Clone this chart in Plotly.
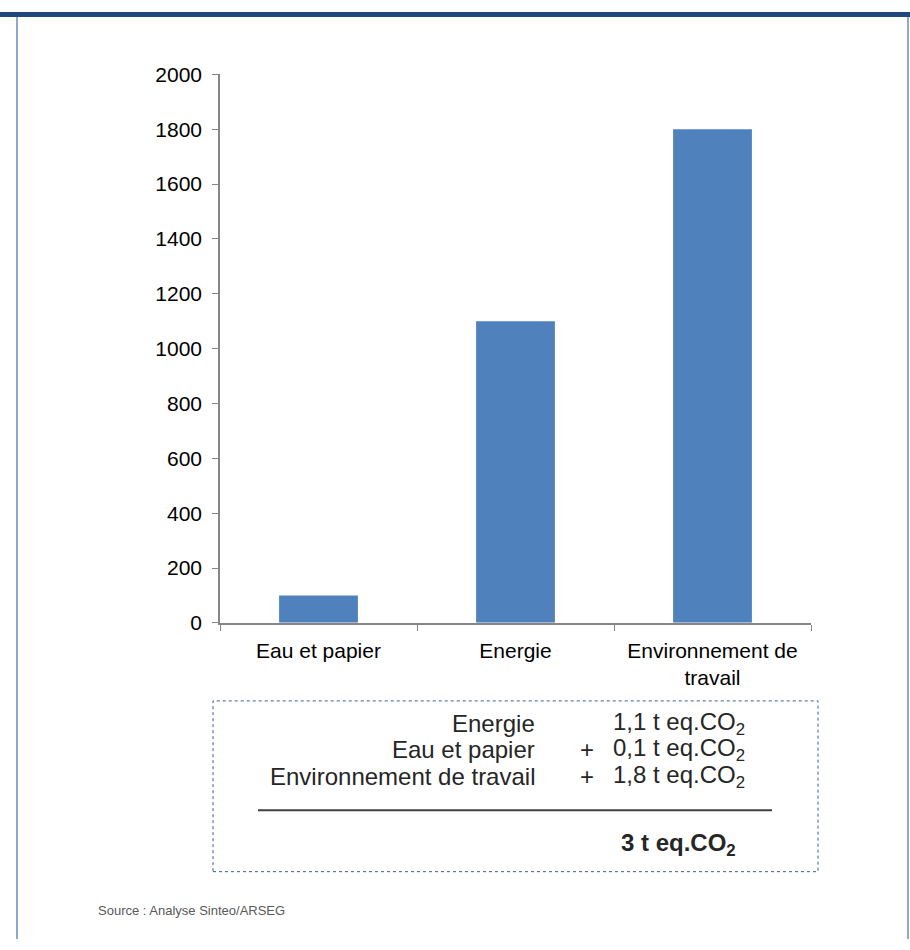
import plotly.graph_objects as go

# Emissions by post (kg eq.CO2)
categories = ["Eau et papier", "Energie", "Environnement de travail"]
tick_labels = ["Eau et papier", "Energie", "Environnement de<br>travail"]
emissions_kg = [100, 1100, 1800]

# Summary box order
summary_order = ["Energie", "Eau et papier", "Environnement de travail"]
summary_signs = ["", "+", "+"]

y_ticks = [0, 200, 400, 600, 800, 1000, 1200, 1400, 1600, 1800, 2000]

W, H = 910, 950
FONT = "Liberation Sans, Arial, sans-serif"
AXIS_GREY = "#868686"
TEXT_DARK = "#262626"
TICK_SIZE = 21
BOX_SIZE = 24


def px(x):
    return x / W


def py(y):
    return 1 - y / H


def fmt_t(kg):
    t = kg / 1000
    s = f"{t:.1f}".replace(".", ",")
    if s.endswith(",0"):
        s = s[:-2]
    return s


fig = go.Figure(
    go.Bar(
        x=categories,
        y=emissions_kg,
        marker=dict(color="#4F81BD", line=dict(width=0)),
        width=0.4,
        hoverinfo="skip",
    )
)

fig.update_layout(
    width=W,
    height=H,
    margin=dict(l=0, r=0, t=0, b=0),
    paper_bgcolor="white",
    plot_bgcolor="white",
    showlegend=False,
    font=dict(family=FONT, size=TICK_SIZE, color="#000000"),
    xaxis=dict(
        domain=[px(220), px(811)],
        range=[-0.5, 2.5],
        tickmode="array",
        tickvals=categories,
        ticktext=tick_labels,
        tickson="boundaries",
        ticks="outside",
        ticklen=6,
        tickcolor=AXIS_GREY,
        showline=True,
        linecolor=AXIS_GREY,
        linewidth=1.5,
        showgrid=False,
        zeroline=False,
        ticklabelstandoff=8,
        tickfont=dict(size=TICK_SIZE, family=FONT, color="#000000"),
    ),
    yaxis=dict(
        domain=[py(626), py(64)],
        range=[0, 2000],
        tickmode="array",
        tickvals=y_ticks,
        ticktext=[str(v) for v in y_ticks],
        ticks="outside",
        ticklen=6,
        tickcolor=AXIS_GREY,
        showline=True,
        linecolor=AXIS_GREY,
        linewidth=1.5,
        showgrid=False,
        zeroline=False,
        ticklabelstandoff=6,
        tickfont=dict(size=TICK_SIZE, family=FONT, color="#000000"),
    ),
)

shapes = [
    # frame: dark band on top, thin light rules at the sides
    dict(type="rect", xref="paper", yref="paper", x0=0, x1=1, y0=py(5), y1=1,
         fillcolor="#1F497D", line=dict(width=0)),
    dict(type="line", xref="paper", yref="paper", x0=px(17), x1=px(17), y0=0, y1=py(5),
         line=dict(color="#8FA8CB", width=2)),
    dict(type="line", xref="paper", yref="paper", x0=px(908), x1=px(908), y0=0, y1=py(5),
         line=dict(color="#8FA8CB", width=2)),
    # dotted summary box
    dict(type="rect", xref="paper", yref="paper", x0=px(213), x1=px(818), y0=py(881), y1=py(706),
         line=dict(color="#3B5C8F", width=1, dash="dot"), fillcolor="rgba(0,0,0,0)"),
    # total rule
    dict(type="line", xref="paper", yref="paper", x0=px(258), x1=px(772), y0=py(818), y1=py(818),
         line=dict(color="#404040", width=2)),
]

annotations = []
row_y = [729, 756, 783]
kg_by_cat = dict(zip(categories, emissions_kg))
for name, sign, yy in zip(summary_order, summary_signs, row_y):
    annotations.append(dict(
        x=px(537), y=py(yy), xref="paper", yref="paper", xanchor="right", yanchor="middle",
        text=name, showarrow=False, font=dict(size=BOX_SIZE, family=FONT, color=TEXT_DARK)))
    if sign:
        annotations.append(dict(
            x=px(587), y=py(yy), xref="paper", yref="paper", xanchor="center", yanchor="middle",
            text=sign, showarrow=False, font=dict(size=BOX_SIZE, family=FONT, color=TEXT_DARK)))
    annotations.append(dict(
        x=px(611), y=py(yy), xref="paper", yref="paper", xanchor="left", yanchor="middle",
        text=f"{fmt_t(kg_by_cat[name])} t eq.CO<sub>2</sub>", showarrow=False,
        font=dict(size=BOX_SIZE, family=FONT, color=TEXT_DARK)))

total_kg = sum(emissions_kg)
annotations.append(dict(
    x=px(619), y=py(853), xref="paper", yref="paper", xanchor="left", yanchor="middle",
    text=f"<b>{fmt_t(total_kg)} t eq.CO<sub>2</sub></b>", showarrow=False,
    font=dict(size=BOX_SIZE, family=FONT, color=TEXT_DARK)))

annotations.append(dict(
    x=px(96), y=py(921), xref="paper", yref="paper", xanchor="left", yanchor="middle",
    text="Source : Analyse Sinteo/ARSEG", showarrow=False,
    font=dict(size=13, family=FONT, color="#595959")))

fig.update_layout(shapes=shapes, annotations=annotations)

fig.write_html("out.html")
